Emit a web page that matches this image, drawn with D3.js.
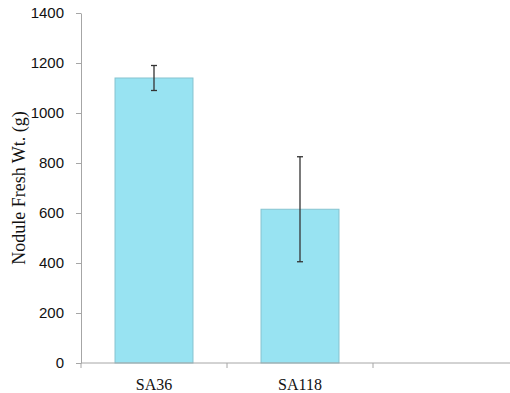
<!DOCTYPE html>
<html>
<head>
<meta charset="utf-8">
<script src="https://cdn.jsdelivr.net/npm/d3@7"></script>
<style>
  html, body { margin: 0; padding: 0; background: #fff; }
  svg { display: block; }
</style>
</head>
<body>
<svg id="chart" width="510" height="393"></svg>
<script>
// Nodule fresh weight per strain, mean with error
const categories = ["SA36", "SA118", ""];
const means = [1140, 615, null];
const errors = [50, 210, null];
const yTicks = [0, 200, 400, 600, 800, 1000, 1200, 1400];

const svg = d3.select("#chart");
const margin = { left: 81, top: 13, bottom: 30 };
const height = 393;
const plotBottom = height - margin.bottom;

const x = d3.scaleBand()
  .domain(categories)
  .range([margin.left, margin.left + 146 * 3])
  .paddingInner(0.466)
  .paddingOuter(0.233);

const y = d3.scaleLinear()
  .domain([0, 1400])
  .range([plotBottom, margin.top]);

const axisColor = "#a6a6a6";
const serif = "'Liberation Serif', 'Times New Roman', Times, serif";

// Bars
const rows = categories.map((c, i) => ({ c, m: means[i], e: errors[i] })).filter(d => d.m != null);

svg.append("g").selectAll("rect")
  .data(rows)
  .join("rect")
  .attr("x", d => x(d.c))
  .attr("y", d => y(d.m))
  .attr("width", x.bandwidth())
  .attr("height", d => y(0) - y(d.m))
  .attr("fill", "#98e3f2")
  .attr("stroke", "#86c3cf")
  .attr("stroke-width", 1);

// Error bars
const eg = svg.append("g").attr("stroke", "#333").attr("stroke-width", 1.3);
rows.forEach(d => {
  const cx = x(d.c) + x.bandwidth() / 2;
  eg.append("line").attr("x1", cx).attr("x2", cx).attr("y1", y(d.m + d.e)).attr("y2", y(d.m - d.e));
  eg.append("line").attr("x1", cx - 3).attr("x2", cx + 3).attr("y1", y(d.m + d.e)).attr("y2", y(d.m + d.e));
  eg.append("line").attr("x1", cx - 3).attr("x2", cx + 3).attr("y1", y(d.m - d.e)).attr("y2", y(d.m - d.e));
});

// Y axis
const yAxis = svg.append("g")
  .attr("transform", `translate(${margin.left},0)`)
  .call(d3.axisLeft(y).tickValues(yTicks).tickFormat(d3.format("d"))
    .tickSize(5).tickPadding(12).tickSizeOuter(0));
yAxis.select(".domain").attr("stroke", axisColor);
yAxis.selectAll(".tick line").attr("stroke", axisColor);
yAxis.selectAll(".tick text")
  .attr("fill", "#111")
  .style("font-family", "'Liberation Sans', Arial, sans-serif")
  .style("font-size", "15px");

// X axis with boundary ticks between categories
const xAxis = svg.append("g").attr("transform", `translate(0,${plotBottom})`);
xAxis.append("line")
  .attr("x1", margin.left).attr("x2", 510)
  .attr("stroke", axisColor);
xAxis.append("line").attr("x1", margin.left).attr("x2", margin.left).attr("y1", 0).attr("y2", 5).attr("stroke", axisColor);
const step = x.step();
categories.forEach((c, i) => {
  const bx = margin.left + step * (i + 1);
  if (bx < 510) {
    xAxis.append("line").attr("x1", bx).attr("x2", bx).attr("y1", 0).attr("y2", 5).attr("stroke", axisColor);
  }
  if (c) {
    xAxis.append("text")
      .attr("x", x(c) + x.bandwidth() / 2)
      .attr("y", 27)
      .attr("text-anchor", "middle")
      .attr("fill", "#111")
      .style("font-family", serif)
      .style("font-size", "16px")
      .text(c);
  }
});

// Y axis title
svg.append("text")
  .attr("transform", `translate(25,${(margin.top + plotBottom) / 2}) rotate(-90)`)
  .attr("text-anchor", "middle")
  .attr("fill", "#111")
  .style("font-family", serif)
  .style("font-size", "18px")
  .text("Nodule Fresh Wt. (g)");
</script>
</body>
</html>
